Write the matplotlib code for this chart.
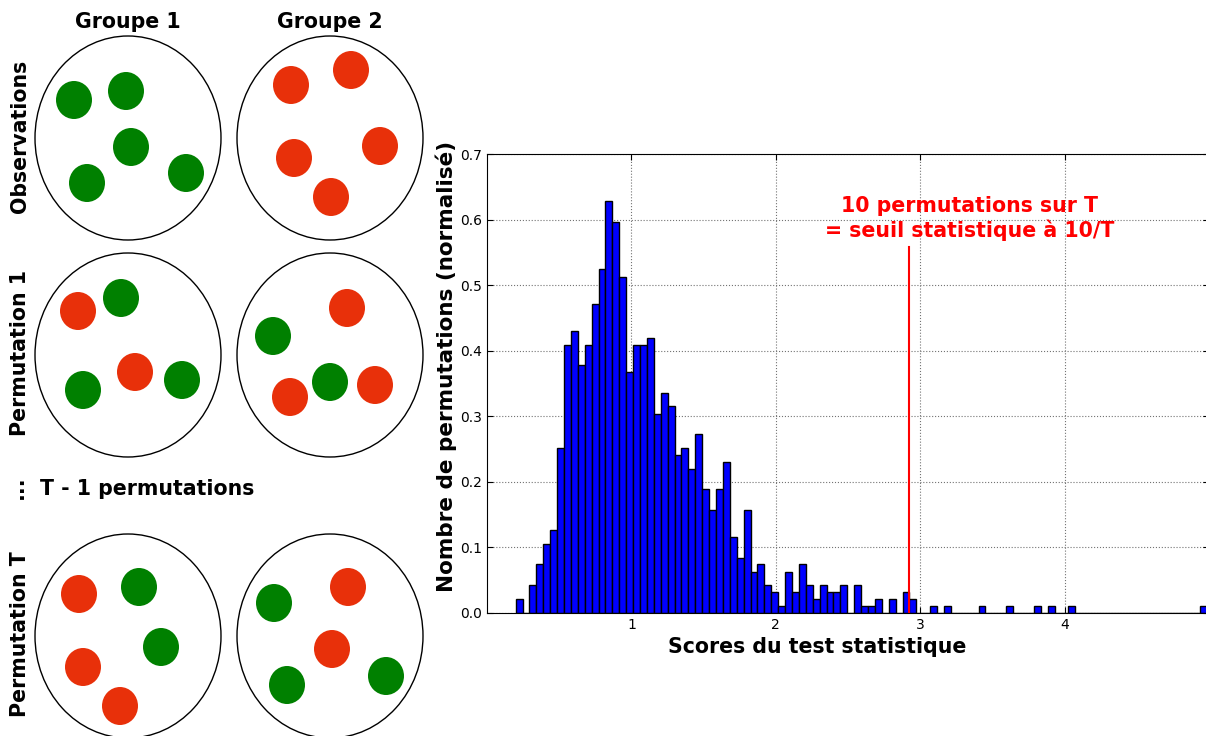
import matplotlib
matplotlib.use('Agg')
import matplotlib.pyplot as plt
from matplotlib.patches import Ellipse

# histogram of permutation scores (normalised counts, 100 bins)
bin_start = 0.198
bin_width = 0.04785
bin_heights = [
    0.021, 0.0, 0.042, 0.074, 0.105, 0.126, 0.252, 0.409, 0.430, 0.378,
    0.409, 0.472, 0.524, 0.629, 0.597, 0.513, 0.367, 0.409, 0.409, 0.419,
    0.304, 0.336, 0.315, 0.241, 0.252, 0.220, 0.273, 0.189, 0.157, 0.189,
    0.231, 0.116, 0.084, 0.157, 0.063, 0.074, 0.042, 0.032, 0.0105, 0.063,
    0.032, 0.074, 0.042, 0.021, 0.042, 0.032, 0.032, 0.042, 0.0, 0.042,
    0.0105, 0.0105, 0.021, 0.0, 0.021, 0.0, 0.032, 0.021, 0.0, 0.0,
    0.0105, 0.0, 0.0105, 0.0, 0.0, 0.0, 0.0, 0.0105, 0.0, 0.0,
    0.0, 0.0105, 0.0, 0.0, 0.0, 0.0105, 0.0, 0.0105, 0.0, 0.0,
    0.0105, 0.0, 0.0, 0.0, 0.0, 0.0, 0.0, 0.0, 0.0, 0.0,
    0.0, 0.0, 0.0, 0.0, 0.0, 0.0, 0.0, 0.0, 0.0, 0.0105,
]
threshold = 2.924
threshold_top = 0.558

# left diagram: which group each ball belongs to (g = green, r = red)
row_names = ['Observations', 'Permutation 1', 'Permutation T']
group_names = ['Groupe 1', 'Groupe 2']
balls = [
    [['g', 'g', 'g', 'g', 'g'], ['r', 'r', 'r', 'r', 'r']],
    [['r', 'g', 'r', 'g', 'g'], ['g', 'r', 'r', 'g', 'r']],
    [['r', 'g', 'g', 'r', 'r'], ['g', 'r', 'r', 'g', 'g']],
]

# layout of the diagram, in pixels
circle_x = [128, 330]
circle_y = [138, 355, 636]
ball_pos = [
    [[(74, 100), (126, 91), (131, 147), (87, 183), (186, 173)],
     [(291, 85), (351, 70), (294, 158), (380, 146), (331, 197)]],
    [[(78, 311), (121, 298), (135, 372), (83, 390), (182, 380)],
     [(273, 336), (347, 308), (290, 397), (330, 382), (375, 385)]],
    [[(79, 594), (139, 587), (161, 647), (83, 667), (120, 706)],
     [(274, 603), (348, 587), (332, 649), (287, 685), (386, 676)]],
]
colors = {'g': '#008000', 'r': '#e8300a'}
fs = 14.8

fig = plt.figure(figsize=(12.06, 7.36), dpi=100)

ax_d = fig.add_axes([0, 0, 1, 1])
ax_d.set_xlim(0, 1206)
ax_d.set_ylim(736, 0)
ax_d.axis('off')

for i, row in enumerate(balls):
    for j, group in enumerate(row):
        ax_d.add_patch(Ellipse((circle_x[j], circle_y[i]), 186, 204,
                               facecolor='white', edgecolor='black', lw=1))
        for k, c in enumerate(group):
            ax_d.add_patch(Ellipse(ball_pos[i][j][k], 36, 38,
                                   facecolor=colors[c], edgecolor='none'))

for j, name in enumerate(group_names):
    ax_d.text(circle_x[j], 22, name, ha='center', va='center',
              fontsize=fs, fontweight='bold')
for i, name in enumerate(row_names):
    ax_d.text(20, circle_y[i] - 2, name, ha='center', va='center',
              rotation=90, fontsize=fs, fontweight='bold')
ax_d.text(17, 487, '...', ha='center', va='center', rotation=90,
          fontsize=fs, fontweight='bold')
ax_d.text(40, 489, 'T - 1 permutations', ha='left', va='center',
          fontsize=fs, fontweight='bold')

# histogram
ax = fig.add_axes([487 / 1206, 123 / 736, 722 / 1206, 459 / 736])
edges = [bin_start + i * bin_width for i in range(len(bin_heights))]
ax.bar(edges, bin_heights, width=bin_width, align='edge',
       color='#0000ff', edgecolor='black', lw=1)
ax.plot([threshold, threshold], [0, threshold_top], color='red', lw=1.5)
ax.text(3.344, 0.601, '10 permutations sur T\n= seuil statistique à 10/T',
        ha='center', va='center', color='red', fontsize=fs,
        fontweight='bold', linespacing=1.2)

ax.set_xlim(0, 5)
ax.set_ylim(0, 0.7)
ax.set_xticks([1, 2, 3, 4])
ax.set_yticks([0, 0.1, 0.2, 0.3, 0.4, 0.5, 0.6, 0.7])
ax.set_yticklabels(['0.0', '0.1', '0.2', '0.3', '0.4', '0.5', '0.6', '0.7'])
ax.tick_params(direction='in', top=True, right=True, labelsize=10, length=4)
ax.grid(True, color='0.45', linestyle=':', lw=0.8)
ax.set_axisbelow(True)
ax.set_xlabel('Scores du test statistique', fontsize=fs, fontweight='bold')
ax.xaxis.set_label_coords(0.457, -0.052)
ax.set_ylabel('Nombre de permutations (normalisé)', fontsize=15.5,
              fontweight='bold')
ax.yaxis.set_label_coords(-0.042, 0.538)

fig.savefig('out.png', dpi=100)
